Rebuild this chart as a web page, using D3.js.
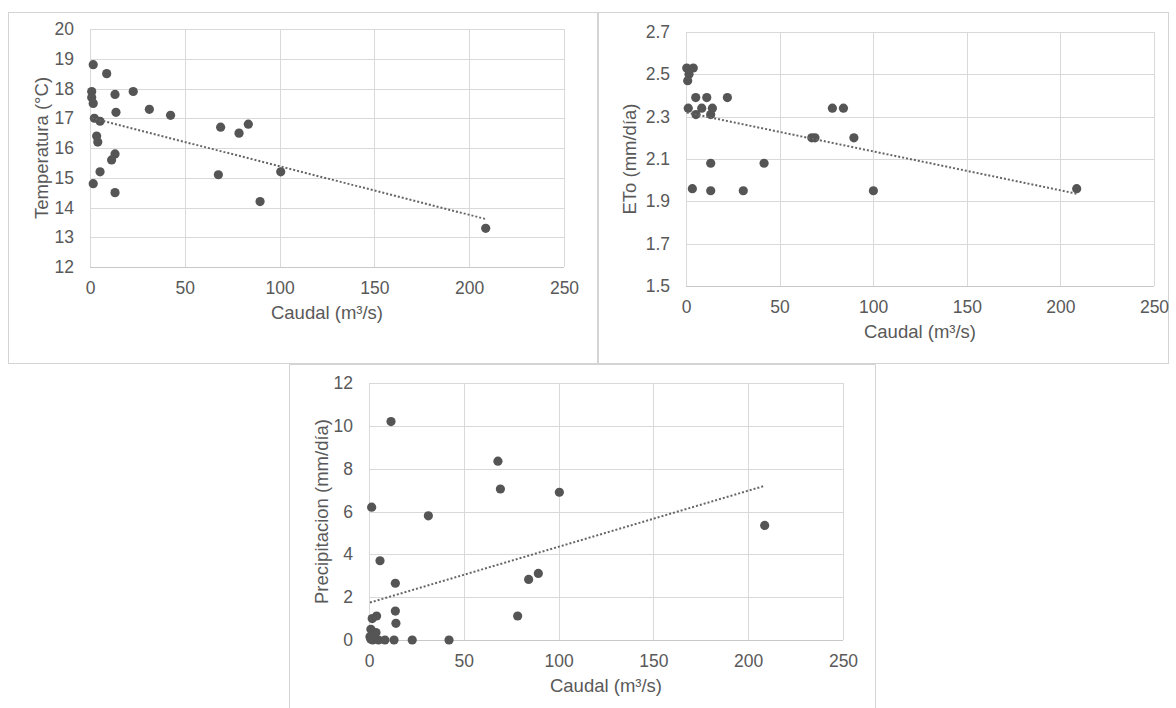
<!DOCTYPE html>
<html>
<head>
<meta charset="utf-8">
<script src="https://cdn.jsdelivr.net/npm/d3@7"></script>
<style>
	body { margin: 0; background: #fff; }
	svg text { font-family: "Liberation Sans", Arial, sans-serif; fill: #595959; }
</style>
</head>
<body>
<script>

// Data

var xTicks = [0, 50, 100, 150, 200, 250];
var tempTicks = [12, 13, 14, 15, 16, 17, 18, 19, 20];
var etoTicks = [1.5, 1.7, 1.9, 2.1, 2.3, 2.5, 2.7];
var precTicks = [0, 2, 4, 6, 8, 10, 12];

// [caudal, temperatura]
var tempPoints = [
	[1.7,18.8],[8.8,18.5],[0.9,17.9],[0.9,17.7],[1.7,17.5],[13.2,17.8],[22.8,17.9],
	[13.7,17.2],[31.3,17.3],[42.5,17.1],[2.3,17.0],[5.3,16.9],[3.5,16.4],[4.1,16.2],
	[68.9,16.7],[78.6,16.5],[83.5,16.8],[13.2,15.8],[11.4,15.6],[5.3,15.2],[1.7,14.8],
	[13.2,14.5],[67.7,15.1],[100.6,15.2],[89.7,14.2],[208.7,13.3]
];

// [caudal, ETo]
var etoPoints = [
	[0.4,2.53],[3.9,2.53],[1.6,2.50],[0.9,2.47],[5.2,2.39],[11.1,2.39],[22.1,2.39],
	[1.2,2.34],[8.4,2.34],[14.1,2.34],[5.3,2.31],[13.2,2.31],[78.2,2.34],[84.1,2.34],
	[67.2,2.20],[68.9,2.20],[89.7,2.20],[13.2,2.08],[41.7,2.08],[3.4,1.96],[13.2,1.95],
	[30.6,1.95],[100.1,1.95],[208.7,1.96]
];

// [caudal, precipitacion]
var precPoints = [
	[11.6,10.2],[1.4,6.2],[31.3,5.8],[68.0,8.35],[69.3,7.05],[100.4,6.9],[208.7,5.35],
	[5.8,3.7],[13.9,2.65],[84.2,2.83],[89.3,3.11],[78.4,1.12],[4.0,1.12],[1.7,1.0],
	[13.9,1.35],[14.2,0.78],[1.0,0.5],[3.7,0.35],[0.5,0.15],[1.9,0],[0.9,0.05],
	[5.0,0],[8.4,0],[13.2,0],[22.8,0],[42.2,0]
];


// Layout

var W = 1176, H = 708;

var svg = d3.select("body").append("svg")
	.attr("width", W)
	.attr("height", H);

var charts = [
	{ box:[8,12,597,363], plot:[90,29,564,267], yTicks:tempTicks, fmt:d3.format("d"),
		points:tempPoints, ytitle:"Temperatura (°C)", ytx:42 },
	{ box:[598,12,1168,363], plot:[686,32,1154,286], yTicks:etoTicks, fmt:d3.format(".1f"),
		points:etoPoints, ytitle:"ETo (mm/día)", ytx:630 },
	{ box:[289,364,875,712], plot:[369,383,843,640], yTicks:precTicks, fmt:d3.format("d"),
		points:precPoints, ytitle:"Precipitacion (mm/día)", ytx:322 }
];

// least squares fit, like the excel linear trendline
function fit(pts){
	var mx = d3.mean(pts, function(d){return d[0]}),
		my = d3.mean(pts, function(d){return d[1]});
	var sxy = d3.sum(pts, function(d){return (d[0]-mx)*(d[1]-my)}),
		sxx = d3.sum(pts, function(d){return (d[0]-mx)*(d[0]-mx)});
	var b = sxy/sxx;
	return { b:b, a:my-b*mx };
}

charts.forEach(function(c){

	var g = svg.append("g");

	g.append("rect")
		.attr("x", c.box[0]+0.5).attr("y", c.box[1]+0.5)
		.attr("width", c.box[2]-c.box[0]).attr("height", c.box[3]-c.box[1])
		.style("fill", "#fff").style("stroke", "#d4d4d4").style("stroke-width", 1);

	var x = d3.scaleLinear().domain([xTicks[0], xTicks[xTicks.length-1]]).range([c.plot[0], c.plot[2]]);
	var y = d3.scaleLinear().domain([c.yTicks[0], c.yTicks[c.yTicks.length-1]]).range([c.plot[3], c.plot[1]]);

	// grid
	g.selectAll(".hgrid").data(c.yTicks).enter().append("line")
		.attr("x1", c.plot[0]).attr("x2", c.plot[2])
		.attr("y1", function(d){return Math.round(y(d))+0.5})
		.attr("y2", function(d){return Math.round(y(d))+0.5})
		.style("stroke", function(d,i){return i==0 ? "#c8c8c8" : "#d9d9d9"}).style("stroke-width", 1);

	g.selectAll(".vgrid").data(xTicks).enter().append("line")
		.attr("x1", function(d){return Math.round(x(d))+0.5})
		.attr("x2", function(d){return Math.round(x(d))+0.5})
		.attr("y1", c.plot[1]).attr("y2", c.plot[3])
		.style("stroke", "#d9d9d9").style("stroke-width", 1);

	// axes
	var ax = g.append("g")
		.attr("transform", "translate(0," + c.plot[3] + ")")
		.call(d3.axisBottom(x).tickValues(xTicks).tickFormat(d3.format("d")).tickSize(0).tickPadding(15));
	var ay = g.append("g")
		.attr("transform", "translate(" + c.plot[0] + ",0)")
		.call(d3.axisLeft(y).tickValues(c.yTicks).tickFormat(c.fmt).tickSize(0).tickPadding(16));
	[ax, ay].forEach(function(a){
		a.select(".domain").remove();
		a.selectAll("text").style("font-size", "17.5px").style("fill", "#595959")
			.style("font-family", "'Liberation Sans', Arial, sans-serif");
	});

	// titles
	g.append("text")
		.attr("x", (c.plot[0]+c.plot[2])/2).attr("y", c.plot[3]+52)
		.attr("text-anchor", "middle").style("font-size", "18.5px")
		.text("Caudal (m³/s)");

	g.append("text")
		.attr("transform", "translate(" + c.ytx + "," + (c.plot[1]+c.plot[3])/2 + ")rotate(-90)")
		.attr("dy", "0.35em")
		.attr("text-anchor", "middle").style("font-size", "18.5px")
		.text(c.ytitle);

	// points
	g.selectAll(".pt").data(c.points).enter().append("circle")
		.attr("cx", function(d){return x(d[0])})
		.attr("cy", function(d){return y(d[1])})
		.attr("r", 4.6)
		.style("fill", "#555555");

	// trendline
	var t = fit(c.points);
	var ext = d3.extent(c.points, function(d){return d[0]});
	g.append("line")
		.attr("x1", x(ext[0])).attr("y1", y(t.a + t.b*ext[0]))
		.attr("x2", x(ext[1])).attr("y2", y(t.a + t.b*ext[1]))
		.style("stroke", "#666").style("stroke-width", 2)
		.style("stroke-dasharray", "2,2");
});

</script>
</body>
</html>
